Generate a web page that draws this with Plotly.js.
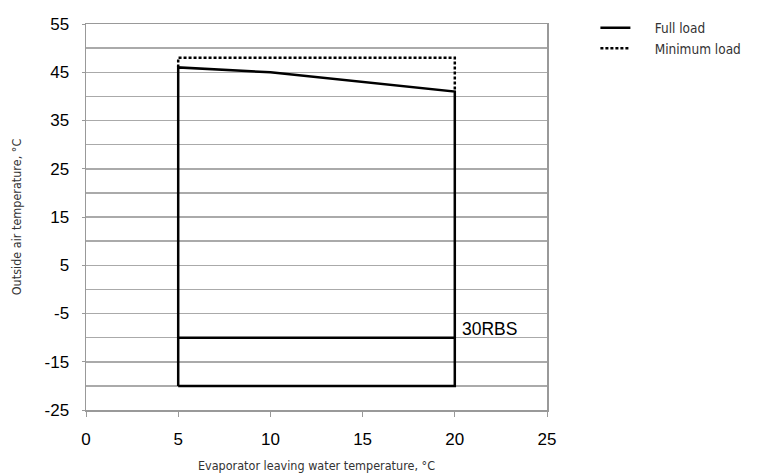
<!DOCTYPE html>
<html>
<head>
<meta charset="utf-8">
<script src="https://cdn.plot.ly/plotly-3.0.1.min.js"></script>
<style>html,body{margin:0;padding:0;background:#fff}#chart{width:758px;height:473px}</style>
</head>
<body>
<div id="chart"></div>
<script>
// Full load envelope (outline)
var fullX = [5, 5, 10, 20, 20, 5];
var fullY = [-20, 46, 45, 41, -20, -20];
// Full load inner limit line
var innerX = [5, 20];
var innerY = [-10, -10];
// Minimum load envelope (top part)
var minX = [5, 5, 20, 20];
var minY = [46, 48, 48, 41];
var seriesNames = ["Full load", "Minimum load"];
var yTickVals = [-25, -15, -5, 5, 15, 25, 35, 45, 55];
var yTickText = ["-25", "-15", "-5", "5", "15", "25", "35", "45", "55"];
var modelLabel = "30RBS";
var labelPos = [20.3, -8.3];

var pad = "\u00a0\u00a0\u00a0\u00a0\u00a0";
var traces = [
  {x: fullX, y: fullY, mode: "lines", name: pad + seriesNames[0], line: {color: "#000", width: 2.5}, showlegend: true},
  {x: innerX, y: innerY, mode: "lines", name: seriesNames[0], line: {color: "#000", width: 2.5}, showlegend: false},
  {x: minX, y: minY, mode: "lines", name: pad + seriesNames[1], line: {color: "#000", width: 2.5, dash: "3px,2px"}, showlegend: true}
];

var titleFont = {family: "DejaVu Sans Condensed, Open Sans, sans-serif", size: 12.5, color: "#333"};
var tickFont = {family: "Liberation Sans, Arial, sans-serif", size: 17, color: "#000"};

var layout = {
  width: 758, height: 473,
  margin: {l: 86, r: 210, t: 18, b: 63},
  paper_bgcolor: "#fff", plot_bgcolor: "#fff",
  showlegend: true,
  legend: {x: 1.105, xanchor: "left", y: 1.03, yanchor: "top",
    font: {family: "DejaVu Sans Condensed, Open Sans, sans-serif", size: 13.5, color: "#333"},
    itemwidth: 30, tracegroupgap: 0, bgcolor: "rgba(0,0,0,0)"},
  xaxis: {
    range: [0, 25], tick0: 0, dtick: 5, showgrid: false, zeroline: false,
    showline: true, linecolor: "#999", linewidth: 1.5, mirror: true,
    ticks: "outside", ticklen: 5, tickcolor: "#999", ticklabelstandoff: 8,
    tickfont: tickFont,
    title: {text: "Evaporator leaving water temperature, °C", standoff: 14, font: titleFont}
  },
  yaxis: {
    range: [-25, 55], tickmode: "array", tickvals: yTickVals, ticktext: yTickText,
    showgrid: true, gridcolor: "#aaa", gridwidth: 1.5,
    zeroline: false, showline: true, linecolor: "#999", linewidth: 1.5, mirror: true,
    ticks: "outside", ticklen: 3, tickcolor: "#999", ticklabelstandoff: 9,
    minor: {dtick: 5, tick0: -25, showgrid: true, gridcolor: "#aaa", gridwidth: 1.5},
    tickfont: tickFont,
    title: {text: "Outside air temperature, °C", standoff: 20, font: titleFont}
  },
  annotations: [{x: labelPos[0], y: labelPos[1], xref: "x", yref: "y", text: modelLabel,
    showarrow: false, xanchor: "left", yanchor: "middle",
    font: {family: "Liberation Sans, Arial, sans-serif", size: 17.5, color: "#000"}}]
};

Plotly.newPlot("chart", traces, layout, {displayModeBar: false, staticPlot: true});
</script>
</body>
</html>
